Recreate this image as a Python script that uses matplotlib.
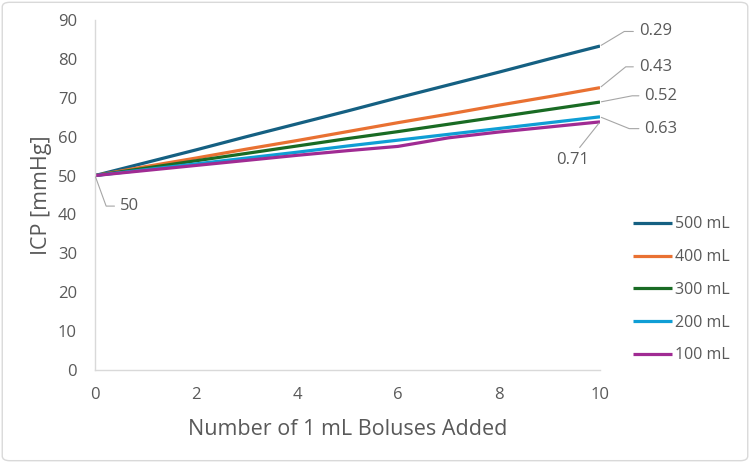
import matplotlib
matplotlib.use("Agg")
import matplotlib.pyplot as plt
from matplotlib.patches import FancyBboxPatch

plt.rcParams["font.family"] = ["Open Sans", "DejaVu Sans"]

# data
boluses = [0, 1, 2, 3, 4, 5, 6, 7, 8, 9, 10]
icp_500 = [50, 53.3, 56.6, 60.0, 63.3, 66.6, 70.0, 73.3, 76.6, 80.0, 83.3]
icp_400 = [50, 52.3, 54.5, 56.8, 59.0, 61.3, 63.6, 65.8, 68.1, 70.3, 72.6]
icp_300 = [50, 51.9, 53.8, 55.7, 57.6, 59.5, 61.3, 63.2, 65.1, 67.0, 68.9]
icp_200 = [50, 51.5, 53.0, 54.5, 56.0, 57.6, 59.1, 60.6, 62.1, 63.6, 65.1]
icp_100 = [50, 51.3, 52.6, 53.9, 55.2, 56.4, 57.5, 59.7, 61.2, 62.5, 63.8]
labels = ["500 mL", "400 mL", "300 mL", "200 mL", "100 mL"]
end_labels = ["0.29", "0.43", "0.52", "0.63", "0.71"]
start_label = "50"

series = [icp_500, icp_400, icp_300, icp_200, icp_100]
colors = ["#156082", "#E97132", "#196B24", "#0F9ED5", "#A02B93"]
text_color = "#595959"
leader_color = "#a6a6a6"

fig = plt.figure(figsize=(7.5, 4.63), dpi=100)
ax = fig.add_axes([0.1267, 0.2009, 0.6733, 0.7559])

for vals, lab, col in zip(series, labels, colors):
    ax.plot(boluses, vals, color=col, lw=2.3, label=lab, solid_capstyle="butt")

ax.set_xlim(0, 10)
ax.set_ylim(0, 90)
ax.set_xticks(range(0, 11, 2))
ax.set_yticks(range(0, 91, 10))
ax.tick_params(length=0, labelsize=12, labelcolor=text_color)
ax.tick_params(axis="x", pad=12)
ax.tick_params(axis="y", pad=13)
for side in ["top", "right"]:
    ax.spines[side].set_visible(False)
for side in ["left", "bottom"]:
    ax.spines[side].set_color("#d9d9d9")
    ax.spines[side].set_linewidth(1.0)

ax.set_xlabel("Number of 1 mL Boluses Added", fontsize=15.5, color=text_color, labelpad=12)
ax.set_ylabel("ICP [mmHg]", fontsize=15.5, color=text_color, labelpad=4)

# end-of-line labels with leader lines (offsets in points)
offsets = [(28, 10.5), (28, 15), (32, 4.5), (32, -8.5), (-8, -22)]
angles = [31, 39, 11, -22, None]
for vals, txt, off, ang in zip(series, end_labels, offsets, angles):
    if ang is None:
        ax.annotate(txt, xy=(boluses[-1], vals[-1]), xytext=off, textcoords="offset points",
                    ha="right", va="top", fontsize=12, color=text_color,
                    arrowprops=dict(arrowstyle="-", color=leader_color, lw=0.8,
                                    relpos=(0.6, 1.0), shrinkA=2, shrinkB=1))
    else:
        ax.annotate(txt, xy=(boluses[-1], vals[-1]), xytext=off, textcoords="offset points",
                    ha="left", va="center", fontsize=12, color=text_color,
                    arrowprops=dict(arrowstyle="-", color=leader_color, lw=0.8,
                                    relpos=(0.0, 0.5), shrinkA=2, shrinkB=1,
                                    connectionstyle=f"angle,angleA=180,angleB={ang},rad=0"))

ax.annotate(start_label, xy=(boluses[0], icp_100[0]), xytext=(18, -22), textcoords="offset points",
            ha="left", va="center", fontsize=12, color=text_color,
            arrowprops=dict(arrowstyle="-", color=leader_color, lw=0.8,
                            relpos=(0.0, 0.5), shrinkA=2, shrinkB=1,
                            connectionstyle="angle,angleA=180,angleB=-70,rad=0"))

fig.legend(loc="upper left", bbox_to_anchor=(0.834, 0.55), frameon=False,
           fontsize=11.5, labelcolor=text_color, handlelength=2.4, handletextpad=0.2,
           labelspacing=1.05, borderpad=0)

border = FancyBboxPatch((0.003, 0.005), 0.994, 0.99, boxstyle="round,pad=0,rounding_size=0.01",
                        transform=fig.transFigure, fill=False, edgecolor="#d9d9d9", lw=1.0)
fig.patches.append(border)

fig.savefig("out.png", dpi=100)
